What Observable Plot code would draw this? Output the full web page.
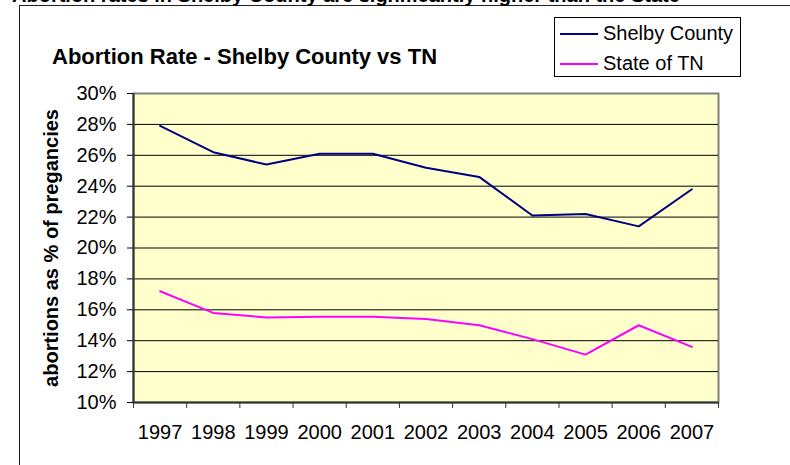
<!DOCTYPE html>
<html>
<head>
<meta charset="utf-8">
<script src="https://cdn.jsdelivr.net/npm/d3@7"></script>
<script src="https://cdn.jsdelivr.net/npm/@observablehq/plot@0.6"></script>
<style>
  html, body { margin: 0; padding: 0; background: #fff; }
  #wrap { position: relative; width: 790px; height: 465px; overflow: hidden; font-family: 'Liberation Sans', Arial, sans-serif; }
  #border { position: absolute; left: 19px; top: 5px; width: 800px; height: 500px; border: 1.5px solid #222; box-sizing: border-box; }
  #topline { position: absolute; left: 12px; top: -16px; font-weight: bold; font-size: 20px; white-space: nowrap; color: #000; }
  #title { position: absolute; left: 52px; top: 44px; font-weight: bold; font-size: 22px; white-space: nowrap; color: #000; }
  #legend { position: absolute; left: 554px; top: 17px; width: 187px; height: 60px; border: 1px solid #000; box-sizing: border-box; background: #fff; }
  .item { position: absolute; left: 5px; height: 24px; font-size: 20px; white-space: nowrap; }
  .swatch { display: inline-block; width: 38px; height: 2px; vertical-align: middle; margin-right: 5px; position: relative; top: -1px; }
  #chart { position: absolute; left: 0; top: 0; }
  #chart g[aria-label="y-axis label"] text { font-weight: bold; }
</style>
</head>
<body>
<div id="wrap">
  <div id="border"></div>
  <div id="topline">Abortion rates in Shelby County are significantly higher than the State</div>
  <div id="title">Abortion Rate - Shelby County vs TN</div>
  <div id="chart"></div>
  <div id="legend"></div>
</div>
<script>
const years = [1997, 1998, 1999, 2000, 2001, 2002, 2003, 2004, 2005, 2006, 2007];
const shelbyCounty = [27.9, 26.2, 25.4, 26.1, 26.1, 25.2, 24.6, 22.1, 22.2, 21.4, 23.8];
const stateOfTN = [17.2, 15.8, 15.5, 15.55, 15.55, 15.4, 15.0, 14.1, 13.1, 15.0, 13.6];
const yTicks = [10, 12, 14, 16, 18, 20, 22, 24, 26, 28, 30];
const seriesNames = ["Shelby County", "State of TN"];
const seriesColors = ["#000080", "#FF00FF"];

const data = [];
years.forEach((yr, i) => {
  data.push({year: yr, value: shelbyCounty[i], series: seriesNames[0]});
  data.push({year: yr, value: stateOfTN[i], series: seriesNames[1]});
});
const xLo = d3.min(years) - 0.5, xHi = d3.max(years) + 0.5;
const boundaries = d3.range(xLo, xHi + 0.01, 1);

const chart = Plot.plot({
  width: 790,
  height: 465,
  marginLeft: 133,
  marginRight: 72,
  marginTop: 93,
  marginBottom: 63,
  style: {fontFamily: "'Liberation Sans', Arial, sans-serif", fontSize: "20px", background: "transparent", color: "#000"},
  x: {domain: [xLo, xHi]},
  y: {domain: [d3.min(yTicks), d3.max(yTicks)]},
  color: {domain: seriesNames, range: seriesColors},
  marks: [
    Plot.frame({fill: "#FFFFCC", stroke: "#808080", strokeWidth: 2}),
    Plot.gridY(yTicks.slice(1, -1), {stroke: "#000", strokeOpacity: 1, strokeWidth: 1}),
    Plot.axisY(yTicks, {tickFormat: d => d + "%", tickSize: 6, tickPadding: 11, fontSize: 20,
      label: "abortions as % of pregancies", labelAnchor: "center", labelArrow: "none", labelOffset: 90}),
    Plot.axisX(years, {tickSize: 0, tickPadding: 22, tickFormat: d => String(d), fontSize: 20, label: null}),
    Plot.axisX(boundaries, {tickSize: 6, tickFormat: () => "", label: null, stroke: "#333"}),
    Plot.ruleX([xLo], {stroke: "#333", strokeWidth: 2}),
    Plot.ruleY([d3.min(yTicks)], {stroke: "#333", strokeWidth: 2}),
    Plot.line(data, {x: "year", y: "value", stroke: "series", strokeWidth: 2})
  ]
});
document.getElementById("chart").appendChild(chart);

const legend = document.getElementById("legend");
seriesNames.forEach((name, i) => {
  const it = document.createElement("div");
  it.className = "item";
  it.style.top = (4 + i * 30) + "px";
  const sw = document.createElement("span");
  sw.className = "swatch";
  sw.style.background = seriesColors[i];
  it.appendChild(sw);
  it.appendChild(document.createTextNode(name));
  legend.appendChild(it);
});
</script>
</body>
</html>
